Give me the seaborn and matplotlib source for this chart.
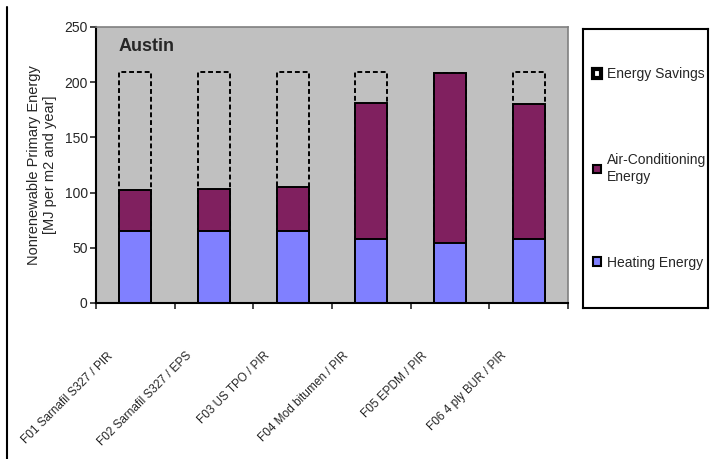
import numpy as np
import pandas as pd
import seaborn as sns
import matplotlib.pyplot as plt
import matplotlib.transforms as mtransforms
from matplotlib.patches import Patch
from matplotlib.lines import Line2D

# data
roofs = ["F01 Sarnafil S327 / PIR", "F02 Sarnafil S327 / EPS", "F03 US TPO / PIR",
         "F04 Mod bitumen / PIR", "F05 EPDM / PIR", "F06 4 ply BUR / PIR"]
heating = [65.5, 65.5, 65.5, 58, 54.5, 58]
aircon = [37, 37.5, 40, 123, 154, 122]
savings = [106.5, 106, 103.5, 28, 0, 29]

df = pd.DataFrame({"roof": roofs, "heat": heating, "ac": aircon, "save": savings})
df["ac_top"] = df["heat"] + df["ac"]
df["total"] = df["ac_top"] + df["save"]

sns.set_style("white")
plt.rcParams["font.family"] = ["Liberation Sans", "DejaVu Sans"]

fig = plt.figure(figsize=(7.18, 4.59), dpi=100)
ax = fig.add_axes([0.1337, 0.3399, 0.6574, 0.6013])
ax.set_facecolor("#C0C0C0")

w = 0.41
# stacked by overlaying tallest first
sns.barplot(data=df, x="roof", y="total", color="#C0C0C0", saturation=1, width=w,
            edgecolor="black", linewidth=1.4, linestyle=(0, (2.5, 1.5)), ax=ax)
sns.barplot(data=df, x="roof", y="ac_top", color="#80205F", saturation=1, width=w,
            edgecolor="black", linewidth=1.4, ax=ax)
sns.barplot(data=df, x="roof", y="heat", color="#8080FF", saturation=1, width=w,
            edgecolor="black", linewidth=1.4, ax=ax)

ax.set_ylim(0, 250)
ax.set_xlim(-0.5, len(roofs) - 0.5)
ax.set_yticks([0, 50, 100, 150, 200, 250])
ax.set_xlabel("")
ax.set_ylabel("Nonrenewable Primary Energy\n[MJ per m2 and year]", fontsize=10.5, labelpad=5)
ax.tick_params(axis="y", labelsize=10, length=4, width=1.2, direction="out", left=True, pad=2)
ax.set_xticks(np.arange(-0.5, len(roofs), 1.0), minor=True)
ax.tick_params(axis="x", which="minor", length=4, width=1.2, direction="out", bottom=True)
ax.tick_params(axis="x", which="major", length=0)
ax.set_xticks(range(len(roofs)))
ax.set_xticklabels(roofs, rotation=45, ha="right", va="top", fontsize=8.5)
shift = mtransforms.ScaledTranslation(-20 / 100, -42 / 100, fig.dpi_scale_trans)
for t in ax.get_xticklabels():
    t.set_transform(t.get_transform() + shift)

for side in ["left", "bottom"]:
    ax.spines[side].set_color("black")
    ax.spines[side].set_linewidth(1.5)
for side in ["top", "right"]:
    ax.spines[side].set_color("#808080")
    ax.spines[side].set_linewidth(1.2)

ax.text(0.047, 0.928, "Austin", transform=ax.transAxes, fontsize=13, fontweight="bold",
        va="center", ha="left")

# legend in its own framed box
lax = fig.add_axes([0.812, 0.329, 0.174, 0.608])
lax.set_xticks([])
lax.set_yticks([])
for s in lax.spines.values():
    s.set_color("black")
    s.set_linewidth(1.5)
handles = [Patch(facecolor="white", edgecolor="black", linewidth=3.0),
           Patch(facecolor="#80205F", edgecolor="black", linewidth=1.5),
           Patch(facecolor="#8080FF", edgecolor="black", linewidth=1.5)]
lax.legend(handles, ["Energy Savings", "Air-Conditioning\nEnergy", "Heating Energy"],
           loc="center left", frameon=False, fontsize=10, handlelength=0.6, handleheight=0.6,
           handletextpad=0.4, labelspacing=5.2, borderaxespad=0.3)

fig.add_artist(Line2D([0.0098, 0.0098], [0.0, 0.985], color="black", linewidth=1.5))

fig.savefig("out.png", dpi=100)
